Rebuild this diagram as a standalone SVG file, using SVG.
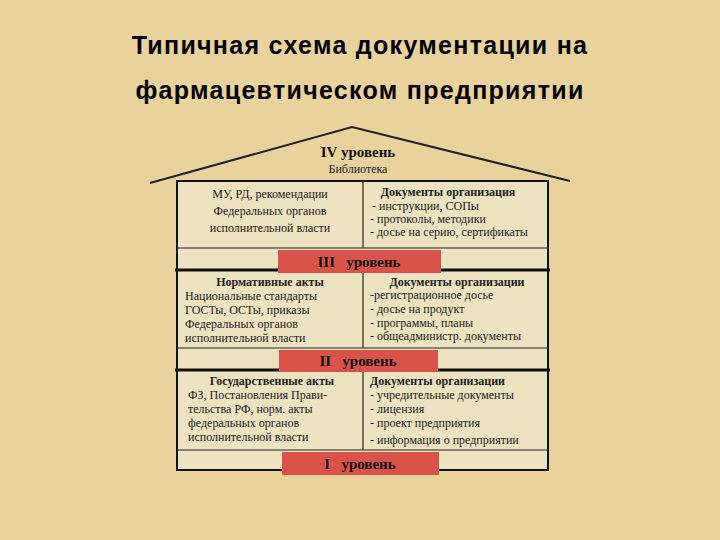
<svg xmlns="http://www.w3.org/2000/svg" width="720" height="540" viewBox="0 0 720 540">
<style>
.t{font-family:"Liberation Serif",serif;font-size:12px;fill:#222}
.b{font-weight:bold}
.lv{font-family:"Liberation Serif",serif;font-size:15px;font-weight:bold;fill:#111;white-space:pre}
.h{font-family:"Liberation Sans",Arial,sans-serif;font-size:25px;font-weight:bold;letter-spacing:1.3px;fill:#000}
.thin{stroke:#222;stroke-width:1.2}
.thick{stroke:#111;stroke-width:3}
.red{fill:#d9534a}
</style>
<rect width="720" height="540" fill="#e9d29c"/>
<text class="h" x="360" y="54" text-anchor="middle">Типичная схема документации на</text>
<text class="h" x="360" y="99" text-anchor="middle">фармацевтическом предприятии</text>
<g id="roof">
<polyline points="150,183 352,127 570,181" fill="none" stroke="#222" stroke-width="2"/>
<text class="lv" x="358" y="157" text-anchor="middle">IV уровень</text>
<text class="t" x="358" y="173" text-anchor="middle" font-size="10.5">Библиотека</text>
</g>
<g id="frame">
<rect x="177" y="181" width="371" height="289" fill="#ede3c0" stroke="#111" stroke-width="2"/>
</g>
<g id="connectors">
<line class="thin" x1="363" y1="181" x2="363" y2="248"/>
<line class="thin" x1="177" y1="248" x2="548" y2="248"/>
<line class="thick" x1="175" y1="270" x2="550" y2="270"/>
<line class="thin" x1="363" y1="270" x2="363" y2="348"/>
<line class="thin" x1="177" y1="348" x2="548" y2="348"/>
<line class="thick" x1="175" y1="370" x2="550" y2="370"/>
<line class="thin" x1="363" y1="370" x2="363" y2="450"/>
<line class="thin" x1="177" y1="450" x2="548" y2="450"/>
</g>
<g id="level4">
<text class="t" x="270" y="198" text-anchor="middle">МУ, РД, рекомендации</text>
<text class="t" x="270" y="215" text-anchor="middle">Федеральных органов</text>
<text class="t" x="270" y="232" text-anchor="middle">исполнительной власти</text>
<text class="t b" x="448" y="196" text-anchor="middle">Документы организация</text>
<text class="t" x="372" y="210">- инструкции, СОПы</text>
<text class="t" x="370" y="223">- протоколы, методики</text>
<text class="t" x="370" y="236">- досье на серию, сертификаты</text>
</g>
<g id="level3">
<rect class="red" x="278" y="250" width="163" height="23"/>
<text class="lv" x="359" y="267" text-anchor="middle">III   уровень</text>
<text class="t b" x="270" y="286" text-anchor="middle">Нормативные акты</text>
<text class="t" x="185" y="300">Национальные стандарты</text>
<text class="t" x="185" y="314">ГОСТы, ОСТы, приказы</text>
<text class="t" x="185" y="328">Федеральных органов</text>
<text class="t" x="185" y="342">исполнительной власти</text>
<text class="t b" x="457" y="286" text-anchor="middle">Документы организации</text>
<text class="t" x="370" y="299">-регистрационное досье</text>
<text class="t" x="370" y="313">- досье на продукт</text>
<text class="t" x="370" y="327">- программы, планы</text>
<text class="t" x="370" y="340">- общеадминистр. документы</text>
</g>
<g id="level2">
<rect class="red" x="279" y="350" width="159" height="22"/>
<text class="lv" x="358" y="366" text-anchor="middle">II   уровень</text>
<text class="t b" x="272" y="385" text-anchor="middle">Государственные акты</text>
<text class="t" x="188" y="399">ФЗ, Постановления Прави-</text>
<text class="t" x="188" y="413">тельства РФ, норм. акты</text>
<text class="t" x="188" y="427">федеральных органов</text>
<text class="t" x="188" y="441">исполнительной власти</text>
<text class="t b" x="370" y="385">Документы организации</text>
<text class="t" x="370" y="399">- учредительные документы</text>
<text class="t" x="370" y="413">- лицензия</text>
<text class="t" x="370" y="427">- проект предприятия</text>
<text class="t" x="370" y="444">- информация о предприятии</text>
</g>
<g id="level1">
<rect class="red" x="282" y="452" width="157" height="23"/>
<text class="lv" x="360" y="469" text-anchor="middle">I   уровень</text>
</g>
</svg>
